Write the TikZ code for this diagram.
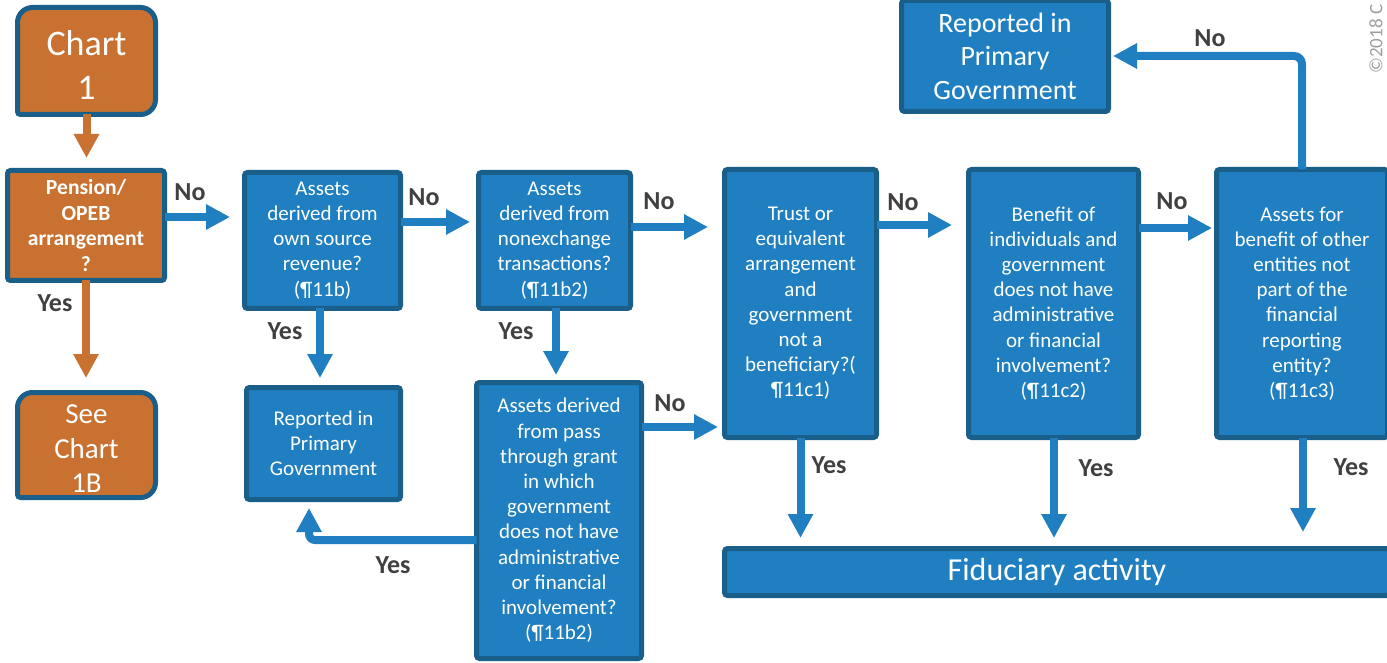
\documentclass[tikz,border=0pt]{standalone}
\usepackage{fontspec}
\setmainfont{Carlito}
\usetikzlibrary{arrows.meta,backgrounds}
\definecolor{fcblue}{RGB}{31,127,192}
\definecolor{fcedge}{RGB}{26,94,138}
\definecolor{fcorange}{RGB}{200,113,48}
\definecolor{fcgray}{RGB}{64,64,64}
\tikzset{fcbox/.style={draw=fcedge,fill=fcblue,line width=2.5pt,rounded corners=1.5pt,text=white,align=center,inner sep=0pt,outer sep=0pt,font=\fontsize{10.5}{12.6}\selectfont},
         fcobox/.style={fcbox,fill=fcorange},
         fcarr/.style={draw=fcblue,line width=4pt,-{Triangle[length=12pt,width=12pt]}},
         fcoarr/.style={fcarr,draw=fcorange},
         fclab/.style={text=fcgray,font=\bfseries\fontsize{13}{15}\selectfont}}
\begin{document}
\begin{tikzpicture}[x=0.5pt,y=-0.5pt]
    \useasboundingbox (0,0) rectangle (1387,663);
    \clip (0,0) rectangle (1387,663);
    \node[fcobox,draw=none,fill=none,minimum width=69pt,minimum height=53.5pt,font=\fontsize{18}{22}\selectfont] (chart) at (86.5,65) {Chart\\1};
    \node[fcobox,minimum width=78.5pt,minimum height=55pt,font=\bfseries\fontsize{10.8}{12.9}\selectfont] (pension) at (86,225.5) {Pension/\\OPEB\\arrangement\\?};
    \node[fcobox,draw=none,fill=none,minimum width=69pt,minimum height=52.5pt,font=\fontsize{14.5}{17.25}\selectfont] (see) at (86.5,449) {See\\Chart\\1B};
    \node[fcbox,minimum width=78pt,minimum height=68pt] (own) at (322.5,240.5) {Assets\\derived from\\own source\\revenue?\\(¶11b)};
    \node[fcbox,minimum width=76pt,minimum height=68pt] (nonex) at (554.5,240.5) {Assets\\derived from\\nonexchange\\transactions?\\(¶11b2)};
    \node[fcbox,minimum width=77pt,minimum height=56pt] (rptlow) at (323.5,443.5) {Reported in\\Primary\\Government};
    \node[fcbox,minimum width=82.5pt,minimum height=138pt] (pass) at (559,520.5) {Assets derived\\from pass\\through grant\\in which\\government\\does not have\\administrative\\or financial\\involvement?\\(¶11b2)};
    \node[fcbox,minimum width=76pt,minimum height=134pt] (trust) at (800.5,303.5) {Trust or\\equivalent\\arrangement\\and\\government\\not a\\beneficiary?(\\¶11c1)};
    \node[fcbox,minimum width=85pt,minimum height=134pt] (benef) at (1053.5,303.5) {Benefit of\\individuals and\\government\\does not have\\administrative\\or financial\\involvement?\\(¶11c2)};
    \node[fcbox,minimum width=85.5pt,minimum height=134pt] (other) at (1302,303.5) {Assets for\\benefit of other\\entities not\\part of the\\financial\\reporting\\entity?\\(¶11c3)};
    \node[fcbox,minimum width=103.5pt,minimum height=55.5pt,font=\fontsize{14}{16.75}\selectfont] (rpttop) at (1005,56) {Reported in\\Primary\\Government};
    \node[fcbox,minimum width=332.5pt,minimum height=23.5pt,font=\fontsize{16}{19}\selectfont] (fiduc) at (1057,572) {Fiduciary activity};
    \node[rotate=90,anchor=west,inner sep=0pt,text=black!38,font=\fontsize{9.5}{12}\selectfont] (copy) at (1376,74) {©2018 C};
    \begin{scope}[on background layer]
    \foreach \n in {chart,see} \draw[draw=fcedge,fill=fcorange,line width=2.5pt] ([yshift=2pt]\n.south west) [rounded corners=7.5pt] -- ([yshift=2pt]\n.north west) -- ([yshift=2pt]\n.north east) -- ([yshift=2pt]\n.south east) [rounded corners=1.5pt] -- cycle;
    \end{scope}
    \foreach \nm/\x/\y/\t in {l1/190/192/No,l2/55/303/Yes,l3/424/197/No,l4/285/331/Yes,l5/659/201/No,l6/516/331/Yes,l7/670/403/No,l8/393/565/Yes,l9/903/202/No,l10/829/465/Yes,l11/1172/201/No,l12/1096/468/Yes,l13/1351/467/Yes,l14/1210/38/No}
      \node[fclab] (\nm) at (\x,\y) {\t};
    \draw[fcoarr,shorten >=6.25pt] ([yshift=2pt]chart.south) -- (chart.south |- pension.north);
    \draw[fcoarr,shorten >=9.25pt] (pension.south) -- (pension.south |- see.north);
    \draw[fcarr,shorten >=7.25pt] (pension.east |- 0,217) -- (own.west |- 0,217);
    \draw[fcarr,shorten >=4.25pt] (own.east |- 0,222) -- (nonex.west |- 0,222);
    \draw[fcarr,shorten >=8.25pt] (nonex.east |- 0,227) -- (trust.west |- 0,227);
    \draw[fcarr,shorten >=3.25pt] (pass.east |- 0,427) -- (trust.west |- 0,427);
    \draw[fcarr,shorten >=8.25pt] (trust.east |- 0,225) -- (benef.west |- 0,225);
    \draw[fcarr,shorten >=2.25pt] (benef.east |- 0,228) -- (other.west |- 0,228);
    \draw[fcarr,shorten >=4.75pt] ([xshift=-1.25pt]own.south) -- ([xshift=-1.25pt]own.south |- rptlow.north);
    \draw[fcarr,shorten >=3.75pt] ([xshift=.75pt]nonex.south) -- ([xshift=.75pt]nonex.south |- pass.north);
    \draw[fcarr,rounded corners=3pt,shorten >=4.25pt] (pass.west |- 0,540) -| ([xshift=-7.25pt]rptlow.south);
    \draw[fcarr,rounded corners=4pt,shorten >=2.25pt] (other.north) |- (rpttop.east);
    \foreach \b/\dx/\s in {trust/0/5.25,benef/0.25/5.25,other/0.5/8.25}
      \draw[fcarr,shorten >=\s pt] ([xshift=\dx pt]\b.south) -- ([xshift=\dx pt]\b.south |- fiduc.north);
\end{tikzpicture}
\end{document}
